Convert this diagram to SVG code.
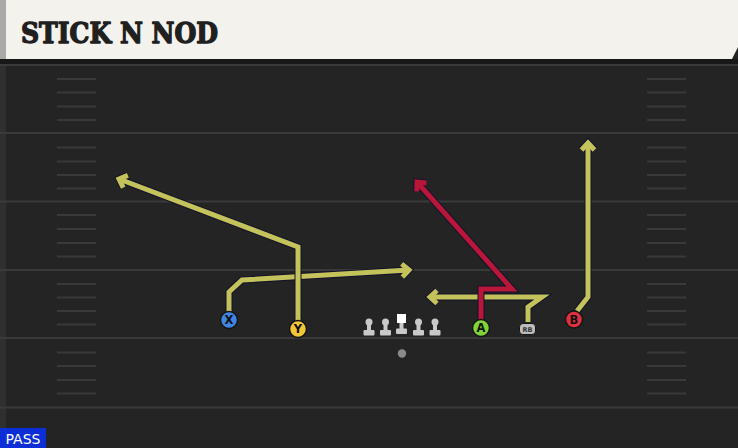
<svg xmlns="http://www.w3.org/2000/svg" width="738" height="448" viewBox="0 0 738 448">
<defs>
<style>
.yl{stroke:#3a3a3a;stroke-width:2}
.hm{stroke:#393939;stroke-width:2}
.ro{fill:none;stroke:#12122a;stroke-width:7;stroke-linejoin:miter}
.ry{fill:none;stroke:#c4c25a;stroke-width:5;stroke-linejoin:miter}
.rr{fill:none;stroke:#b8173a;stroke-width:5;stroke-linejoin:miter}
.pl{stroke:#151515;stroke-width:1.5}
.lt{font-family:"DejaVu Sans",sans-serif;font-weight:bold;font-size:11.5px;fill:#111;text-anchor:middle}
.ol{fill:#c9c9c9}
</style>
<marker id="mo" markerUnits="userSpaceOnUse" viewBox="-12 -12 24 24" markerWidth="24" markerHeight="24" refX="0" refY="0" orient="auto" overflow="visible">
<path d="M-7,-6.5 L0,0 L-7,6.5" fill="none" stroke="#12122a" stroke-width="7"/>
</marker>
<marker id="my" markerUnits="userSpaceOnUse" viewBox="-12 -12 24 24" markerWidth="24" markerHeight="24" refX="0" refY="0" orient="auto" overflow="visible">
<path d="M-7,-6.5 L0,0 L-7,6.5" fill="none" stroke="#c4c25a" stroke-width="5"/>
</marker>
<marker id="mr" markerUnits="userSpaceOnUse" viewBox="-12 -12 24 24" markerWidth="24" markerHeight="24" refX="0" refY="0" orient="auto" overflow="visible">
<path d="M-7,-6.5 L0,0 L-7,6.5" fill="none" stroke="#b8173a" stroke-width="5"/>
</marker>
</defs>

<rect x="0" y="0" width="738" height="448" fill="#242424"/>
<rect x="0" y="0" width="6" height="448" fill="#2f2f2f"/>

<g id="field">
<line class="yl" x1="0" y1="65" x2="738" y2="65"/>
<line class="yl" x1="0" y1="133" x2="738" y2="133"/>
<line class="yl" x1="0" y1="201.5" x2="738" y2="201.5"/>
<line class="yl" x1="0" y1="270" x2="738" y2="270"/>
<line class="yl" x1="0" y1="338" x2="738" y2="338"/>
<line class="yl" x1="0" y1="407.5" x2="738" y2="407.5"/>
<g id="hashes">
<path class="hm" d="M57,79H96M57,92.5H96M57,106.5H96M57,120H96M57,147.5H96M57,161.5H96M57,175H96M57,188.5H96M57,215H96M57,229H96M57,243H96M57,256.5H96M57,284H96M57,297.5H96M57,311H96M57,324.5H96M57,352.5H96M57,366H96M57,380H96M57,393.5H96"/>
<path class="hm" d="M647,79H686M647,92.5H686M647,106.5H686M647,120H686M647,147.5H686M647,161.5H686M647,175H686M647,188.5H686M647,215H686M647,229H686M647,243H686M647,256.5H686M647,284H686M647,297.5H686M647,311H686M647,324.5H686M647,352.5H686M647,366H686M647,380H686M647,393.5H686"/>
</g>
</g>

<g id="header">
<rect x="0" y="59" width="738" height="5" fill="#181818"/>
<polygon points="6,0 738,0 738,47 732,59 6,59" fill="#f4f2ec"/>
<rect x="0" y="0" width="6" height="59" fill="#a9a9a9"/>
<text x="21" y="43" font-family="'DejaVu Serif',serif" font-weight="bold" font-size="28" fill="#202020" stroke="#202020" stroke-width="1.4" stroke-linejoin="round" textLength="197" lengthAdjust="spacingAndGlyphs">STICK N NOD</text>
</g>

<g id="connectors">
<g id="route-x">
<path class="ro" d="M229,312 L229,292 L242,280 L409,270" marker-end="url(#mo)"/>
<path class="ry" d="M229,312 L229,292 L242,280 L409,270" marker-end="url(#my)"/>
</g>
<g id="route-y">
<path class="ro" d="M298,321 L298,247 L119,179" marker-end="url(#mo)"/>
<path class="ry" d="M298,321 L298,247 L119,179" marker-end="url(#my)"/>
</g>
<g id="route-b">
<path class="ro" d="M577,311 L588,297 L588,143" marker-end="url(#mo)"/>
<path class="ry" d="M577,311 L588,297 L588,143" marker-end="url(#my)"/>
</g>
<g id="route-rb">
<path class="ro" d="M528,322 L528,307 L542,297 L430,297" marker-end="url(#mo)"/>
<path class="ry" d="M528,322 L528,307 L542,297 L430,297" marker-end="url(#my)"/>
</g>
<g id="route-a">
<path class="ro" d="M481,320 L481,289 L512,289 L417,182" marker-end="url(#mo)"/>
<path class="rr" d="M481,320 L481,289 L512,289 L417,182" marker-end="url(#mr)"/>
</g>
</g>

<g id="node-x">
<circle class="pl" cx="229" cy="320" r="8.5" fill="#3f86e2"/>
<text class="lt" x="229" y="324">X</text>
</g>
<g id="node-y">
<circle class="pl" cx="298" cy="329" r="8.5" fill="#f2c637"/>
<text class="lt" x="298" y="333">Y</text>
</g>
<g id="node-ol">
<g class="ol">
<circle cx="369" cy="322" r="3.5"/><rect x="367" y="322" width="4" height="9"/><rect x="363.5" y="330" width="11" height="5.5" rx="1"/>
<circle cx="385.5" cy="322" r="3.5"/><rect x="383.5" y="322" width="4" height="9"/><rect x="380" y="330" width="11" height="5.5" rx="1"/>
<circle cx="418.5" cy="322" r="3.5"/><rect x="416.5" y="322" width="4" height="9"/><rect x="413" y="330" width="11" height="5.5" rx="1"/>
<circle cx="435" cy="322" r="3.5"/><rect x="433" y="322" width="4" height="9"/><rect x="429.5" y="330" width="11" height="5.5" rx="1"/>
<rect x="399.5" y="320" width="4" height="10"/><rect x="396" y="328.5" width="11" height="5.5" rx="1"/>
</g>
<rect x="397" y="314" width="9" height="9" fill="#ffffff"/>
</g>
<g id="node-qb">
<circle cx="402" cy="353.5" r="4.2" fill="#8a8a8a"/>
</g>
<g id="node-a">
<circle class="pl" cx="481" cy="328" r="8.5" fill="#7fd43a"/>
<text class="lt" x="481" y="332">A</text>
</g>
<g id="node-rb">
<rect x="519.5" y="323.5" width="16" height="11" rx="3.5" fill="#bdbdbd" stroke="#151515" stroke-width="1"/>
<text x="527.5" y="332" font-family="'DejaVu Sans',sans-serif" font-weight="bold" font-size="6.5" fill="#333" text-anchor="middle">RB</text>
</g>
<g id="node-b">
<circle class="pl" cx="574" cy="319.5" r="8.5" fill="#e0303f"/>
<text class="lt" x="574" y="323.5">B</text>
</g>

<g id="pass">
<rect x="0" y="428" width="46" height="20" fill="#0b2ed6"/>
<text x="23" y="444" font-family="'DejaVu Sans',sans-serif" font-size="14" fill="#ffffff" text-anchor="middle">PASS</text>
</g>
</svg>
